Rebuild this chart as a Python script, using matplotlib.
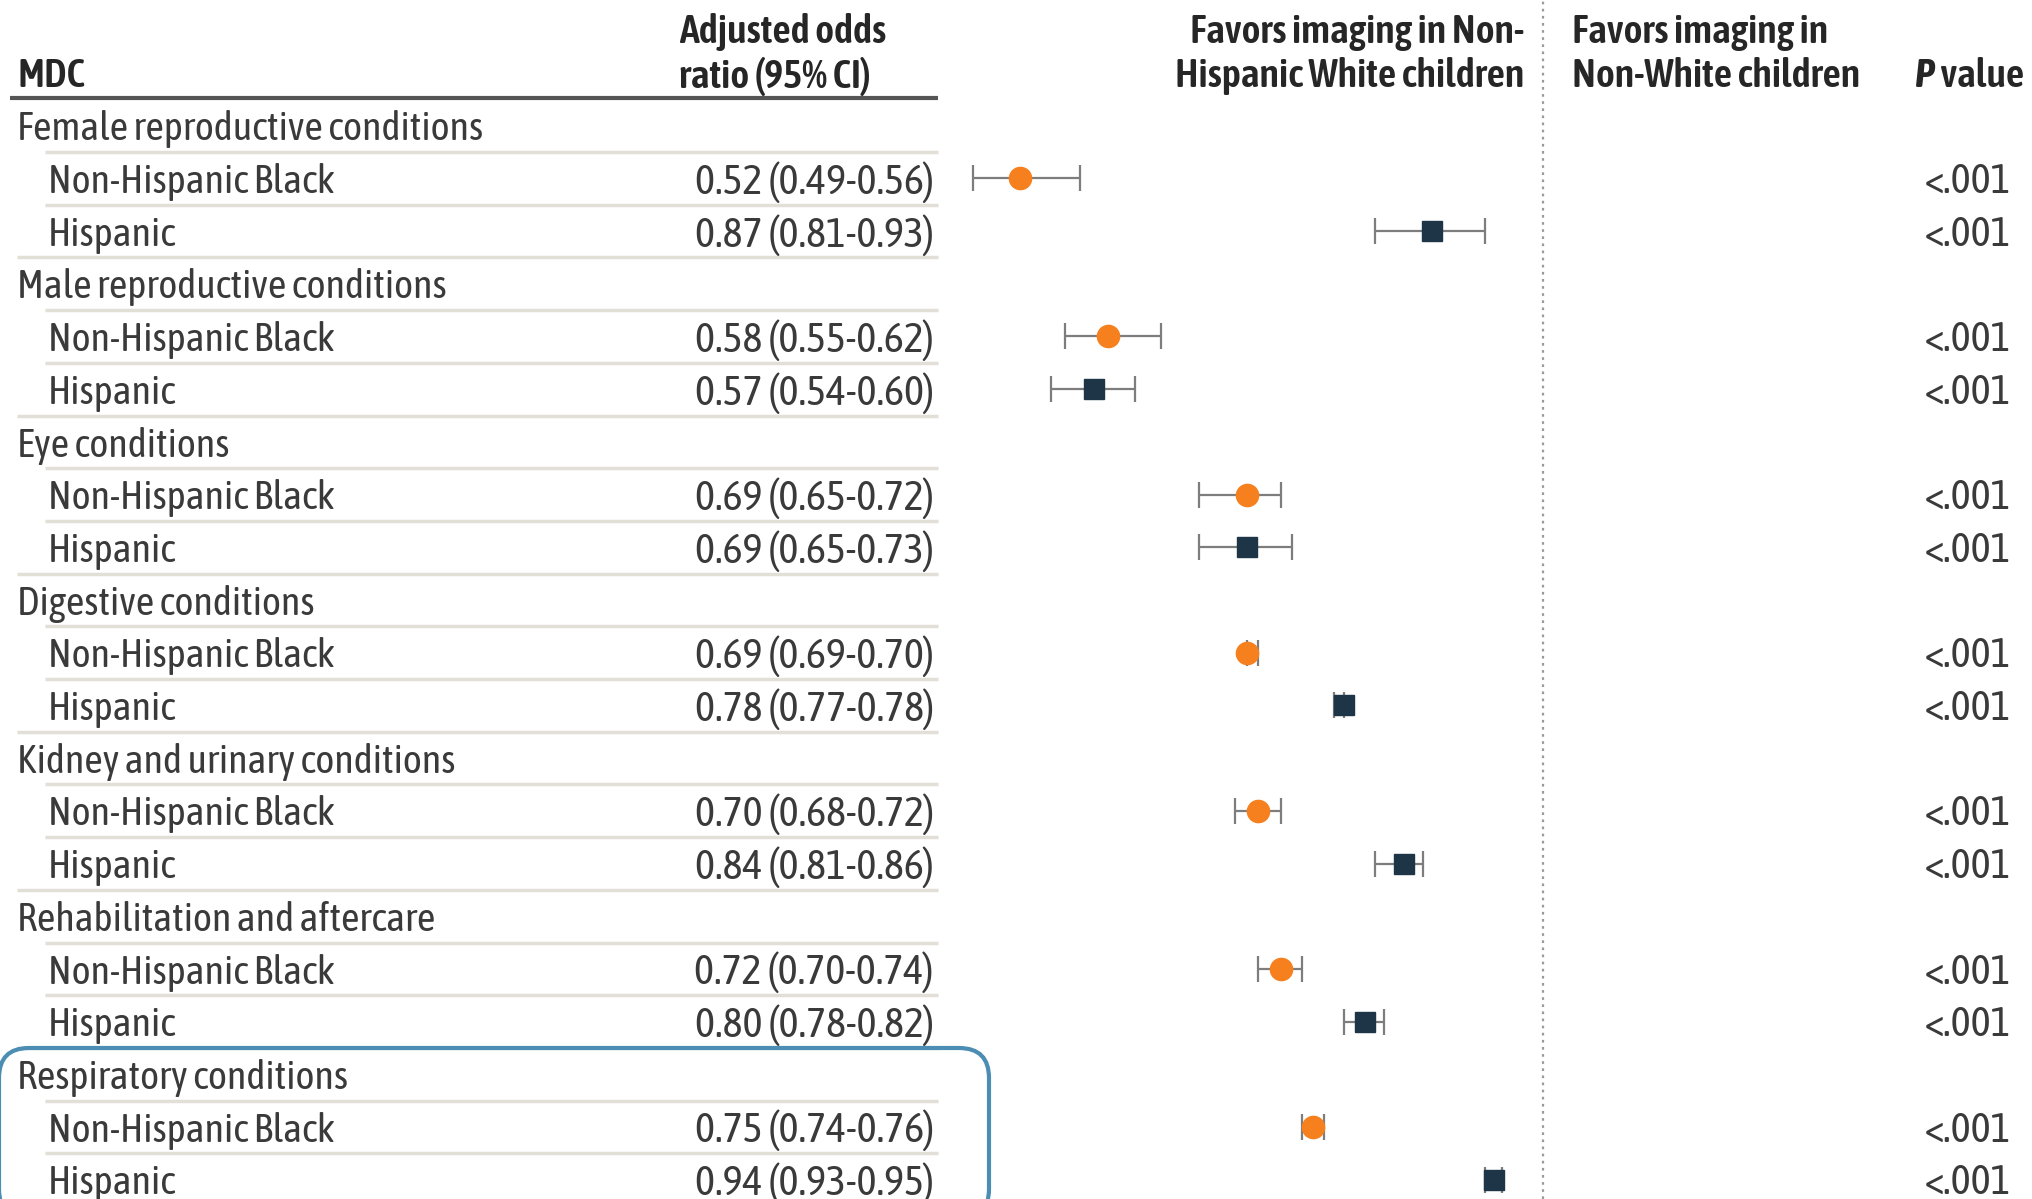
import matplotlib
matplotlib.use("Agg")
import matplotlib.pyplot as plt
from matplotlib import font_manager
from matplotlib.patches import FancyBboxPatch
from matplotlib.transforms import IdentityTransform, blended_transform_factory

# Table data
groups = ["Female reproductive conditions", "Male reproductive conditions",
          "Eye conditions", "Digestive conditions",
          "Kidney and urinary conditions", "Rehabilitation and aftercare",
          "Respiratory conditions"]
subgroups = ["Non-Hispanic Black", "Hispanic"]

black_or = [0.52, 0.58, 0.69, 0.69, 0.70, 0.72, 0.75]
black_lo = [0.49, 0.55, 0.65, 0.69, 0.68, 0.70, 0.74]
black_hi = [0.56, 0.62, 0.72, 0.70, 0.72, 0.74, 0.76]

hisp_or = [0.87, 0.57, 0.69, 0.78, 0.84, 0.80, 0.94]
hisp_lo = [0.81, 0.54, 0.65, 0.77, 0.81, 0.78, 0.93]
hisp_hi = [0.93, 0.60, 0.73, 0.78, 0.86, 0.82, 0.95]

p_values = ["<.001"] * 14

# narrow humanist sans, falling back to whatever is there
names = {f.name for f in font_manager.fontManager.ttflist}
font = "DejaVu Sans"
for cand in ["Asap Condensed", "Barlow Semi Condensed", "Liberation Sans Narrow"]:
    if cand in names:
        font = cand
        break
plt.rcParams["font.family"] = [font, "DejaVu Sans"]

W, H, DPI = 2032, 1199, 100
fig = plt.figure(figsize=(W / DPI, H / DPI), dpi=DPI)
ax = fig.add_axes([0, 0, 1, 1])
ax.set_xscale("log")
ax.set_xlim(0.145, 1.844)
ax.set_ylim(20.366, -2.385)
ax.axis("off")

tr = blended_transform_factory(ax.transAxes, ax.transData)
txt_col = "#3a3a3a"
head_col = "#262626"
fs = 29
fs_num = 30.5
dy = 0.07  # nudge text so the glyphs sit centred on the row
orange = "#f7801e"
navy = "#1d3546"
sep_col = "#e2dfd6"


def px(x):
    return x / W


def head(x, y, s, ha="left", style="normal"):
    return ax.text(px(x), y + dy, s, transform=tr, ha=ha, va="center",
                   fontsize=fs, fontweight="semibold", fontstyle=style,
                   color=head_col)


# header
head(17, -1.01, "MDC")
head(679, -1.85, "Adjusted odds")
head(679, -1.01, "ratio (95% CI)")
head(1524, -1.85, "Favors imaging in Non-", ha="right")
head(1524, -1.01, "Hispanic White children", ha="right")
head(1572, -1.85, "Favors imaging in")
head(1572, -1.01, "Non-White children")
val = head(2024, -1.01, " value", ha="right")
fig.canvas.draw()
val_w = val.get_window_extent().width
head(2024 - val_w, -1.01, "P", ha="right", style="italic")
ax.plot([px(10), px(938)], [-0.52, -0.52], transform=tr, color="#555555",
        lw=3, solid_capstyle="butt")

# reference line at OR = 1
ax.axvline(1.0, color="#9a9a9a", lw=1.6, ls=(0, (1.2, 2.0)), zorder=1)

row = 0
k = 0
for g in range(len(groups)):
    ax.text(px(17), row + dy, groups[g], transform=tr, ha="left",
            va="center", fontsize=fs, color=txt_col)
    ax.plot([px(45), px(938)], [row + 0.5, row + 0.5], transform=tr,
            color=sep_col, lw=2.5, solid_capstyle="butt")
    vals = [(black_or[g], black_lo[g], black_hi[g], "o", orange, 16),
            (hisp_or[g], hisp_lo[g], hisp_hi[g], "s", navy, 14.5)]
    for j, (o, lo, hi, mk, col, ms) in enumerate(vals):
        y = row + 1 + j
        ax.text(px(48), y + dy, subgroups[j], transform=tr, ha="left",
                va="center", fontsize=fs, color=txt_col)
        ax.text(px(934), y + dy, f"{o:.2f} ({lo:.2f}-{hi:.2f})", transform=tr,
                ha="right", va="center", fontsize=fs_num, color=txt_col)
        ax.text(px(2011), y + dy, p_values[k], transform=tr, ha="right",
                va="center", fontsize=fs_num, color=txt_col)
        k += 1
        ax.errorbar([o], [y], xerr=[[o - lo], [hi - o]], fmt="none",
                    ecolor="#7d7d7d", elinewidth=1.6, capsize=9.5,
                    capthick=1.6, zorder=2)
        ax.plot([o], [y], marker=mk, color=col, ms=ms, ls="none", zorder=3)
        start = 45 if j == 0 else 17
        ax.plot([px(start), px(938)], [y + 0.5, y + 0.5], transform=tr,
                color=sep_col, lw=2.5, solid_capstyle="butt")
    row += 3

# highlight box around the respiratory rows (pixel coordinates)
box = FancyBboxPatch((-1, -20), 990, 1199 - 1048 + 20,
                     boxstyle="round,pad=0,rounding_size=30",
                     transform=IdentityTransform(), fill=False,
                     edgecolor="#4b8db3", lw=3)
fig.patches.append(box)

fig.savefig("out.png", dpi=DPI)
